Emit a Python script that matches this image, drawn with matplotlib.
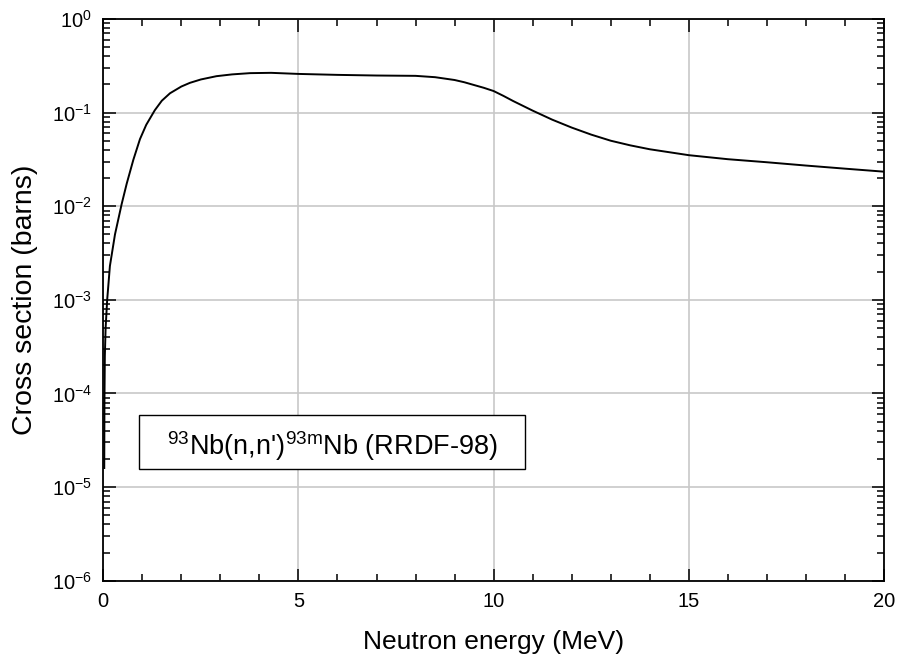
"""
93Nb(n,n')93mNb dosimetry cross section (RRDF-98).
"""
import matplotlib
matplotlib.use("Agg")
import matplotlib.pyplot as plt
from matplotlib.patches import Rectangle
from matplotlib.ticker import MultipleLocator, LogLocator, LogFormatterMathtext, NullFormatter

plt.rcParams["font.family"] = ["Liberation Sans", "DejaVu Sans"]
plt.rcParams["mathtext.default"] = "regular"
plt.rcParams["axes.unicode_minus"] = False

# neutron energy (MeV) and cross section (barns)
energy = [0.025, 0.03, 0.04, 0.06, 0.1, 0.17, 0.3, 0.47, 0.6, 0.77, 0.94,
          1.1, 1.32, 1.5, 1.71, 2.0, 2.22, 2.5, 2.9, 3.3, 3.76, 4.3, 5.0,
          6.0, 7.0, 7.5, 8.0, 8.5, 9.0, 9.25, 9.5, 9.75, 10.0, 10.25, 10.5,
          11.0, 11.5, 12.0, 12.5, 13.0, 13.5, 14.0, 15.0, 16.0, 17.0, 18.0,
          19.0, 20.0]
xsec = [1.6e-5, 8e-5, 2.5e-4, 5e-4, 1.0e-3, 2.3e-3, 5.0e-3, 1.05e-2, 1.74e-2,
        3.13e-2, 5.21e-2, 7.4e-2, 0.106, 0.134, 0.161, 0.19, 0.208, 0.226,
        0.245, 0.256, 0.264, 0.266, 0.259, 0.253, 0.249, 0.248, 0.247,
        0.239, 0.223, 0.211, 0.197, 0.184, 0.170, 0.151, 0.133, 0.105,
        0.0841, 0.0692, 0.0582, 0.0501, 0.0447, 0.0406, 0.0351, 0.0318,
        0.0295, 0.0272, 0.0252, 0.0234]

LABEL = "$^{93}$Nb(n,n')$^{93m}$Nb (RRDF-98)"

fig = plt.figure(figsize=(8.98, 6.64), dpi=100)
ax = fig.add_axes([0.115, 0.1254, 0.8694, 0.846])

ax.semilogy(energy, xsec, color="black", lw=1.4, zorder=3)

ax.set_xlim(0, 20)
ax.set_ylim(1e-6, 1)
ax.xaxis.set_major_locator(MultipleLocator(5))
ax.xaxis.set_minor_locator(MultipleLocator(1))
ax.yaxis.set_major_locator(LogLocator(base=10, numticks=10))
ax.yaxis.set_minor_locator(LogLocator(base=10, subs=range(2, 10), numticks=20))
ax.yaxis.set_major_formatter(LogFormatterMathtext())
ax.yaxis.set_minor_formatter(NullFormatter())

ax.grid(True, which="major", color="#c8c8c8", lw=1.2, zorder=0)
ax.tick_params(which="both", direction="in", top=True, right=True,
               labelsize=14.5, width=1.1, colors="black")
ax.tick_params(which="major", length=9)
ax.tick_params(axis="x", which="major", pad=8)
ax.tick_params(axis="y", which="major", pad=8)
ax.tick_params(which="minor", length=5)
for s in ax.spines.values():
    s.set_linewidth(1.3)

ax.set_xlabel("Neutron energy (MeV)", fontsize=19, labelpad=14)
ax.set_ylabel("Cross section (barns)", fontsize=20.5, labelpad=10)

# label box
ax.add_patch(Rectangle((0.046, 0.199), 0.494, 0.096, transform=ax.transAxes,
                       fc="white", ec="black", lw=1, zorder=4))
ax.text(0.0816, 0.2238, LABEL, transform=ax.transAxes, fontsize=19.5,
        ha="left", va="baseline", zorder=5)

plt.savefig("out.png", dpi=100)
